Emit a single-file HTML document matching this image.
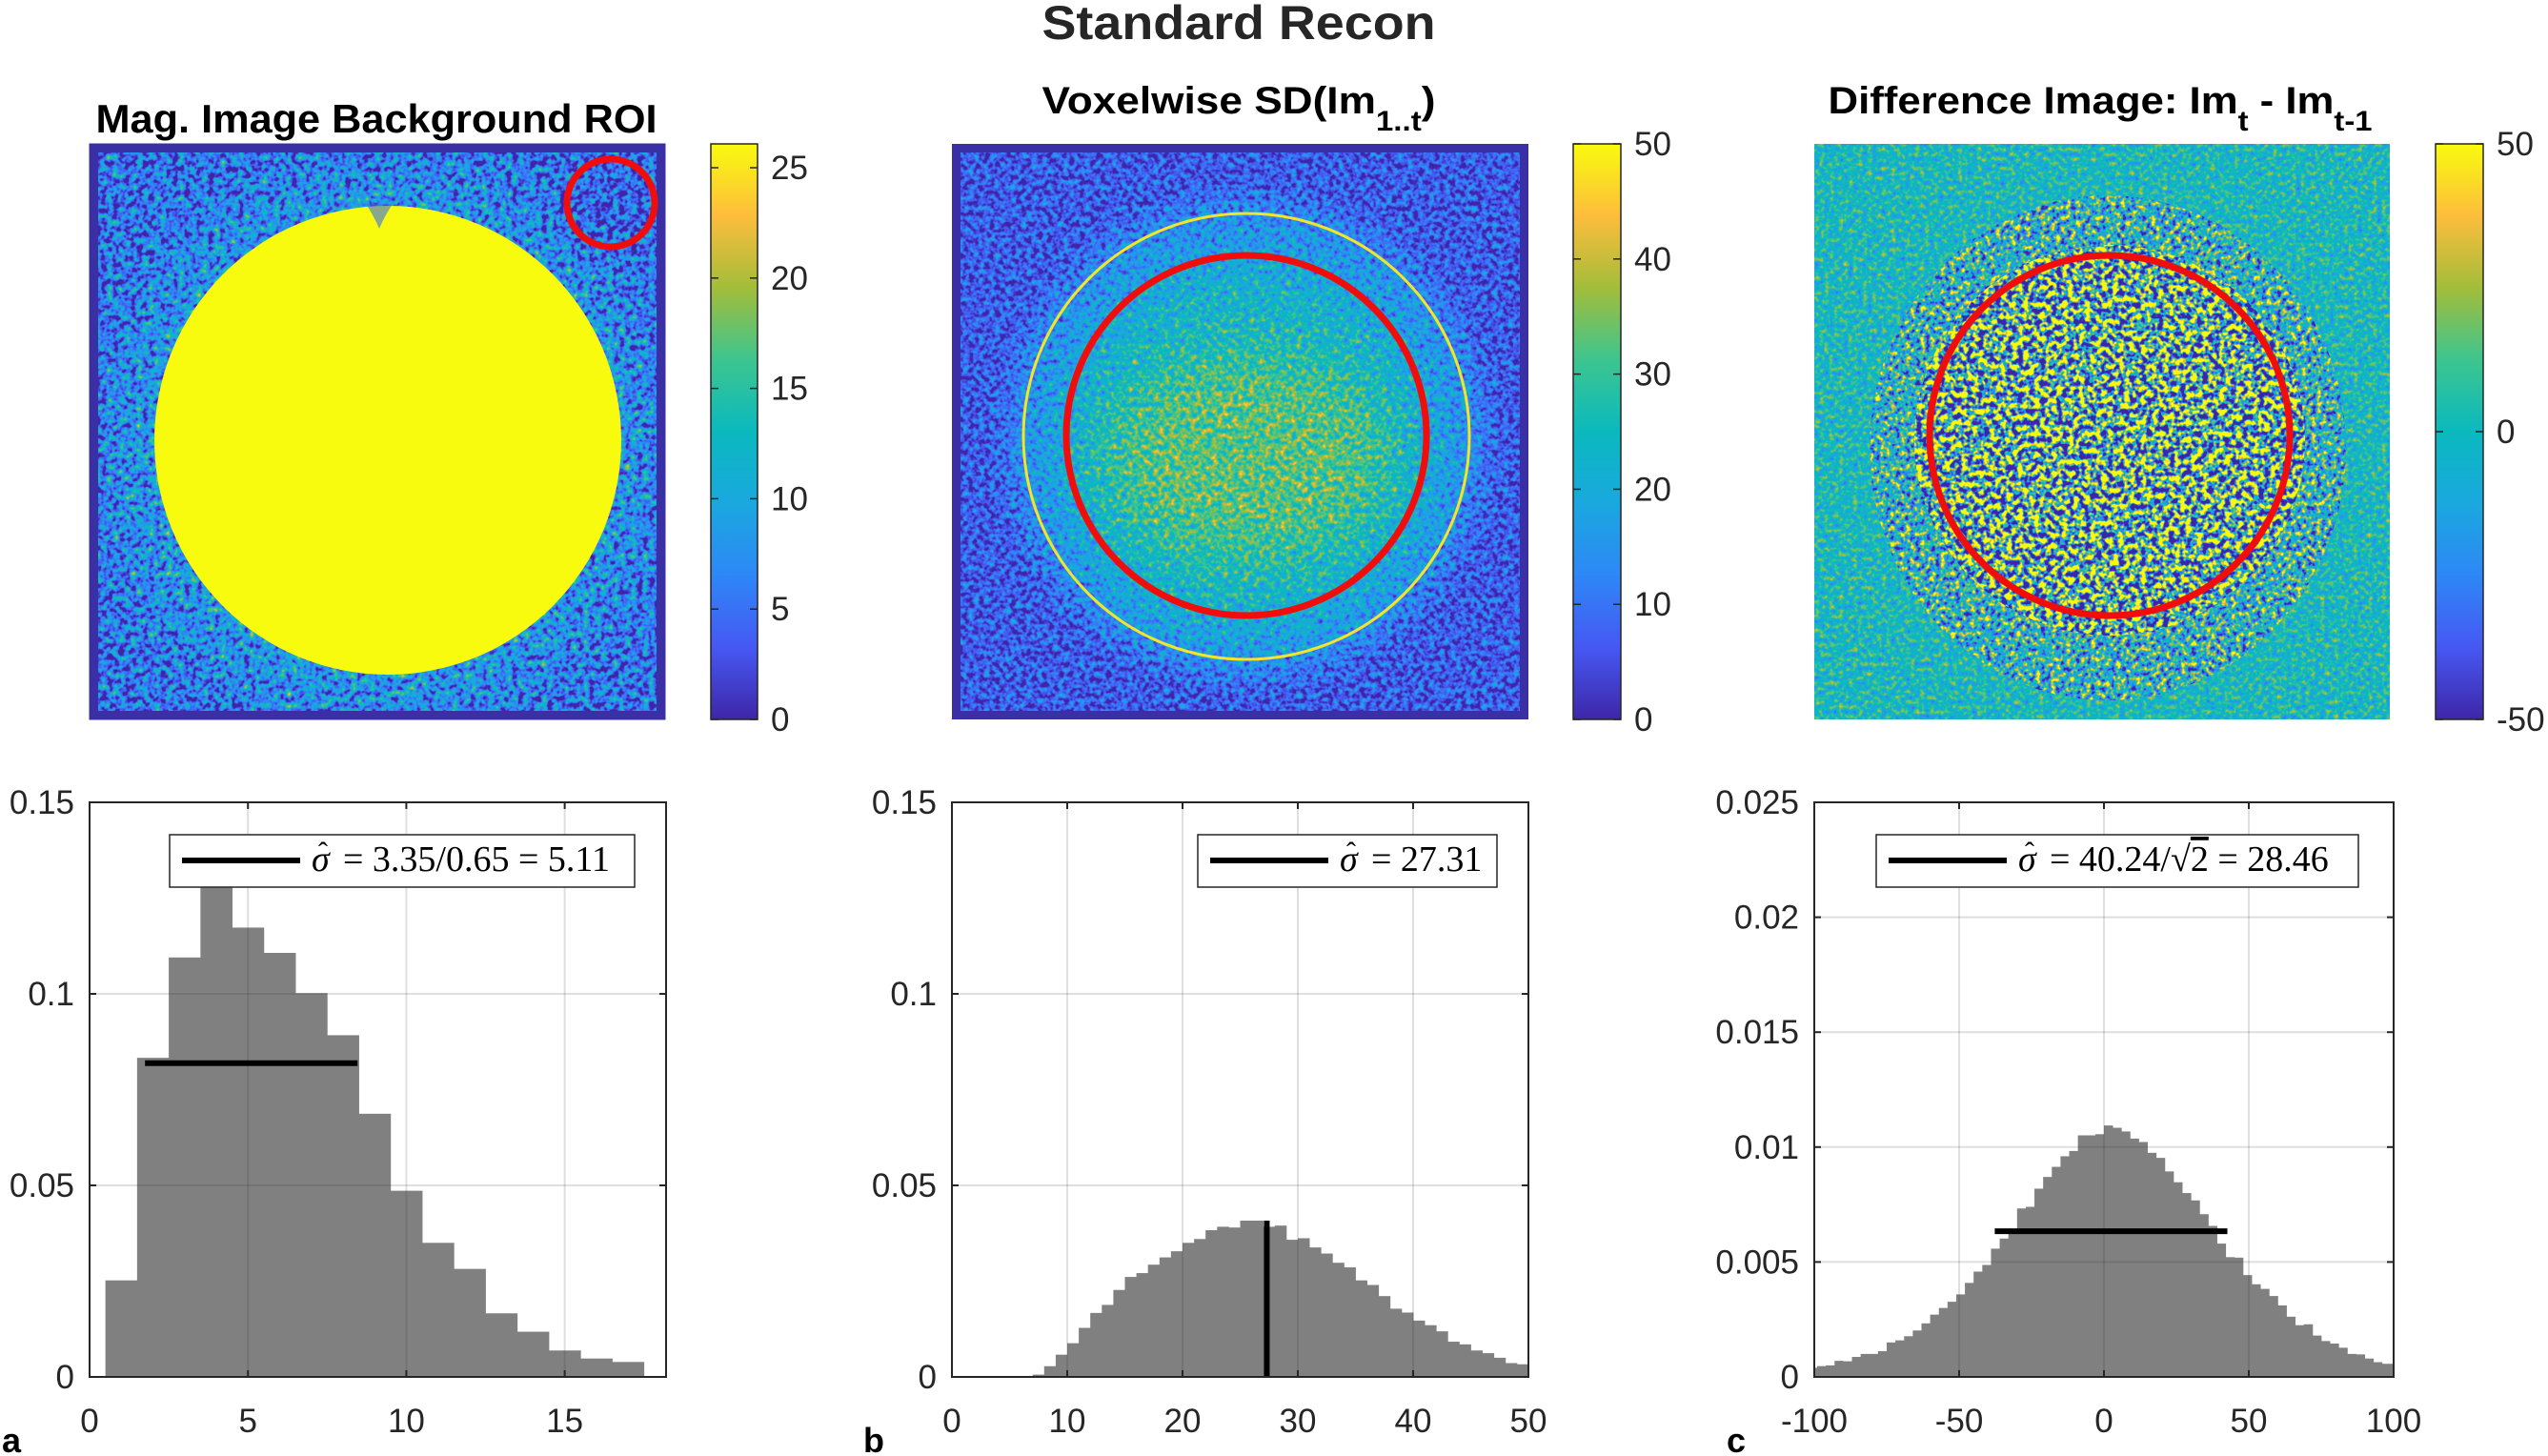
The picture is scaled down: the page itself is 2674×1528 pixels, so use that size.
<!DOCTYPE html>
<html><head><meta charset="utf-8"><style>
html,body{margin:0;padding:0;background:#fff;}
svg{display:block;}
</style></head><body>
<svg id="fig" width="2674" height="1528" viewBox="0 0 2674 1528" xmlns="http://www.w3.org/2000/svg">
<defs>
<linearGradient id="parula" x1="0" y1="1" x2="0" y2="0">
<stop offset="0" stop-color="#3e26a8"/><stop offset="0.125" stop-color="#4658f3"/><stop offset="0.25" stop-color="#2e87f6"/><stop offset="0.375" stop-color="#1aa8df"/><stop offset="0.5" stop-color="#0ab9be"/><stop offset="0.625" stop-color="#3dc58f"/><stop offset="0.75" stop-color="#a3bd3a"/><stop offset="0.875" stop-color="#fdbd3c"/><stop offset="1" stop-color="#f9fb0e"/>
</linearGradient>
<filter id="blur12" x="-20%" y="-20%" width="140%" height="140%"><feGaussianBlur stdDeviation="14"/></filter>
<filter id="blur30" x="-30%" y="-30%" width="160%" height="160%"><feGaussianBlur stdDeviation="30"/></filter>
<filter id="fa" filterUnits="userSpaceOnUse" x="94" y="151" width="604" height="604" color-interpolation-filters="sRGB">
<feTurbulence type="fractalNoise" baseFrequency="0.16" numOctaves="2" seed="4" result="n"/>
<feColorMatrix in="n" type="matrix" values="1 0 0 0 0 1 0 0 0 0 1 0 0 0 0 0 0 0 0 1" result="g"/>
<feComposite in="SourceGraphic" in2="g" operator="arithmetic" k1="0" k2="1" k3="1.4" k4="-0.7"/>
<feComponentTransfer><feFuncR type="table" tableValues="0.243 0.275 0.180 0.102 0.039 0.239 0.639 0.992 0.976"/><feFuncG type="table" tableValues="0.149 0.345 0.529 0.659 0.725 0.773 0.741 0.741 0.984"/><feFuncB type="table" tableValues="0.659 0.953 0.965 0.875 0.745 0.561 0.227 0.235 0.055"/></feComponentTransfer>
</filter>
<filter id="fb" filterUnits="userSpaceOnUse" x="999" y="151" width="605" height="604" color-interpolation-filters="sRGB">
<feTurbulence type="fractalNoise" baseFrequency="0.18" numOctaves="2" seed="7" result="n"/>
<feColorMatrix in="n" type="matrix" values="1 0 0 0 0 1 0 0 0 0 1 0 0 0 0 0 0 0 0 1" result="g"/>
<feComposite in="SourceGraphic" in2="g" operator="arithmetic" k1="0" k2="1" k3="0.9" k4="-0.45"/>
<feComponentTransfer><feFuncR type="table" tableValues="0.243 0.275 0.180 0.102 0.039 0.239 0.639 0.992 0.976"/><feFuncG type="table" tableValues="0.149 0.345 0.529 0.659 0.725 0.773 0.741 0.741 0.984"/><feFuncB type="table" tableValues="0.659 0.953 0.965 0.875 0.745 0.561 0.227 0.235 0.055"/></feComponentTransfer>
</filter>
<filter id="fc" filterUnits="userSpaceOnUse" x="1904" y="151" width="604" height="604" color-interpolation-filters="sRGB">
<feTurbulence type="fractalNoise" baseFrequency="0.2" numOctaves="2" seed="11" result="n"/>
<feColorMatrix in="n" type="matrix" values="1 0 0 0 0 1 0 0 0 0 1 0 0 0 0 0 0 0 0 1" result="g"/>
<feComposite in="SourceGraphic" in2="g" operator="arithmetic" k1="0" k2="1" k3="0.9" k4="-0.45"/>
<feComponentTransfer><feFuncR type="table" tableValues="0.243 0.275 0.180 0.102 0.039 0.239 0.639 0.992 0.976"/><feFuncG type="table" tableValues="0.149 0.345 0.529 0.659 0.725 0.773 0.741 0.741 0.984"/><feFuncB type="table" tableValues="0.659 0.953 0.965 0.875 0.745 0.561 0.227 0.235 0.055"/></feComponentTransfer>
</filter>
<filter id="fcm" filterUnits="userSpaceOnUse" x="1904" y="151" width="604" height="604" color-interpolation-filters="sRGB">
<feTurbulence type="fractalNoise" baseFrequency="0.19" numOctaves="2" seed="9" result="n"/>
<feColorMatrix in="n" type="matrix" values="1 0 0 0 0 1 0 0 0 0 1 0 0 0 0 0 0 0 0 1" result="g"/>
<feComposite in="SourceGraphic" in2="g" operator="arithmetic" k1="0" k2="1" k3="2.2" k4="-1.1"/>
<feComponentTransfer><feFuncR type="table" tableValues="0.243 0.275 0.180 0.102 0.039 0.239 0.639 0.992 0.976"/><feFuncG type="table" tableValues="0.149 0.345 0.529 0.659 0.725 0.773 0.741 0.741 0.984"/><feFuncB type="table" tableValues="0.659 0.953 0.965 0.875 0.745 0.561 0.227 0.235 0.055"/></feComponentTransfer>
</filter>
<filter id="fc2" filterUnits="userSpaceOnUse" x="1904" y="151" width="604" height="604" color-interpolation-filters="sRGB">
<feTurbulence type="fractalNoise" baseFrequency="0.17" numOctaves="2" seed="5" result="n"/>
<feColorMatrix in="n" type="matrix" values="1 0 0 0 0 1 0 0 0 0 1 0 0 0 0 0 0 0 0 1" result="g"/>
<feComposite in="SourceGraphic" in2="g" operator="arithmetic" k1="0" k2="1" k3="4.5" k4="-2.25"/>
<feComponentTransfer><feFuncR type="table" tableValues="0.243 0.275 0.180 0.102 0.039 0.239 0.639 0.992 0.976"/><feFuncG type="table" tableValues="0.149 0.345 0.529 0.659 0.725 0.773 0.741 0.741 0.984"/><feFuncB type="table" tableValues="0.659 0.953 0.965 0.875 0.745 0.561 0.227 0.235 0.055"/></feComponentTransfer>
</filter>
<clipPath id="clipA"><rect x="94" y="151" width="604" height="604"/></clipPath>
<clipPath id="clipB"><rect x="999" y="151" width="605" height="604"/></clipPath>
<clipPath id="clipC"><rect x="1904" y="151" width="604" height="604"/></clipPath>
<clipPath id="clipCout"><ellipse cx="2212" cy="470" rx="250" ry="265"/></clipPath>
<clipPath id="clipCin"><circle cx="2214" cy="462" r="205"/></clipPath>
</defs>

<text x="1300" y="41" text-anchor="middle" font-family="Liberation Sans, sans-serif" font-weight="bold" font-size="50" fill="#262626" textLength="413" lengthAdjust="spacingAndGlyphs">Standard Recon</text>

<!-- Panel a image -->
<g clip-path="url(#clipA)">
<g filter="url(#fa)">
<rect x="94" y="151" width="604" height="604" fill="rgb(51,51,51)"/>
<ellipse cx="400" cy="470" rx="285" ry="290" fill="rgb(82,82,82)" filter="url(#blur30)"/>
<circle cx="641" cy="213" r="50" fill="rgb(40,40,40)" filter="url(#blur12)"/>
</g>
<rect x="98" y="155" width="596" height="596" fill="none" stroke="#3b2fa6" stroke-width="10"/>
<ellipse cx="407" cy="462" rx="245" ry="246" fill="#f9fb0e"/>
<path d="M384 214 Q392 226 398 240 Q404 226 412 214 Z" fill="#3a72e6" opacity="0.6"/>
</g>
<rect x="94" y="151" width="604" height="604" fill="none" stroke="#3b2fa6" stroke-width="1"/>
<circle cx="641" cy="213" r="46" fill="none" stroke="#f20d0d" stroke-width="7"/>
<text x="395" y="139" text-anchor="middle" font-family="Liberation Sans, sans-serif" font-weight="bold" font-size="42" fill="#000" textLength="589" lengthAdjust="spacingAndGlyphs">Mag. Image Background ROI</text>

<!-- Panel b image -->
<g clip-path="url(#clipB)">
<g filter="url(#fb)">
<rect x="999" y="151" width="605" height="604" fill="rgb(34,34,34)"/>
<circle cx="1308" cy="458" r="250" fill="rgb(70,70,70)" filter="url(#blur12)"/>
<circle cx="1308" cy="470" r="200" fill="rgb(120,120,120)" filter="url(#blur30)"/>
<ellipse cx="1310" cy="480" rx="150" ry="110" fill="rgb(165,165,165)" filter="url(#blur30)"/>
</g>
<rect x="1003" y="155" width="597" height="596" fill="none" stroke="#3b2fa6" stroke-width="10"/>
<circle cx="1308" cy="458" r="234" fill="none" stroke="#f2e52a" stroke-width="3"/>
</g>
<circle cx="1308" cy="457" r="189" fill="none" stroke="#f20d0d" stroke-width="7"/>
<text x="1300" y="119" text-anchor="middle" font-family="Liberation Sans, sans-serif" font-weight="bold" font-size="40" fill="#000" textLength="413" lengthAdjust="spacingAndGlyphs">Voxelwise SD(Im<tspan font-size="30" dy="18">1..t</tspan><tspan dy="-18">)</tspan></text>

<!-- Panel c image -->
<g clip-path="url(#clipC)">
<g filter="url(#fc)">
<rect x="1904" y="151" width="604" height="604" fill="rgb(128,128,128)"/>
</g>
<g clip-path="url(#clipCout)">
<g filter="url(#fcm)"><rect x="1904" y="151" width="604" height="604" fill="rgb(122,122,122)"/></g>
</g>
<g clip-path="url(#clipCin)">
<g filter="url(#fc2)"><rect x="1904" y="151" width="604" height="604" fill="rgb(128,128,128)"/></g>
</g>
</g>
<circle cx="2214" cy="457" r="189" fill="none" stroke="#f20d0d" stroke-width="7"/>
<text x="2204" y="119" text-anchor="middle" font-family="Liberation Sans, sans-serif" font-weight="bold" font-size="40" fill="#000" textLength="571" lengthAdjust="spacingAndGlyphs">Difference Image: Im<tspan font-size="30" dy="18">t</tspan><tspan dy="-18"> - Im</tspan><tspan font-size="30" dy="18">t-1</tspan></text>

<g id="colorbars"></g>
<g id="charts"></g>

<text x="2" y="1524" font-family="Liberation Sans, sans-serif" font-weight="bold" font-size="36" fill="#000">a</text>
<text x="906" y="1524" font-family="Liberation Sans, sans-serif" font-weight="bold" font-size="36" fill="#000">b</text>
<text x="1812" y="1524" font-family="Liberation Sans, sans-serif" font-weight="bold" font-size="36" fill="#000">c</text>
</svg>
<script>
// ---- data ----
const aBinStart = 0.5;
const aBinWidth = 1;
const aValues = [0.0252,0.0833,0.1095,0.129,0.1173,0.1107,0.1002,0.0892,0.0687,0.0486,0.035,0.0282,0.0166,0.0118,0.0069,0.0048,0.0039];
const aStatLine = [1.75, 8.46, 0.0819];
const aXTicks = [0,5,10,15];
const aYTicks = [0,0.05,0.1,0.15];
const aYTickLabels = ["0","0.05","0.1","0.15"];

const bBinStart = 0;
const bBinWidth = 1;
const bValues = [0,0,0,0,0,0,0.0001,0.0006,0.0028,0.0058,0.0088,0.0128,0.0167,0.0188,0.0227,0.0261,0.0271,0.0293,0.0312,0.0328,0.035,0.036,0.0383,0.0392,0.039,0.0408,0.0408,0.0392,0.0395,0.0358,0.0362,0.0338,0.0322,0.0298,0.0286,0.0252,0.024,0.0211,0.0178,0.0168,0.0147,0.0135,0.0119,0.0092,0.0085,0.0069,0.0062,0.005,0.0036,0.0033];
const bStatLine = [27.31, 0, 0.0408];
const bXTicks = [0,10,20,30,40,50];
const bYTicks = [0,0.05,0.1,0.15];
const bYTickLabels = ["0","0.05","0.1","0.15"];

const cBinStart = -102;
const cBinWidth = 3;
const cValues = [0.0004,0.00047,0.0005,0.0007,0.00068,0.00087,0.001,0.001,0.00112,0.0015,0.00159,0.00177,0.00202,0.00233,0.00271,0.003,0.00327,0.00359,0.00409,0.00458,0.00487,0.00558,0.00602,0.00644,0.00733,0.0074,0.00819,0.0087,0.00914,0.0096,0.00983,0.01051,0.01051,0.01056,
0.01094,0.01084,0.01068,0.01037,0.01022,0.00975,0.00953,0.00894,0.00847,0.008,0.00768,0.00708,0.00657,0.0058,0.00521,0.00519,0.00443,0.00403,0.00383,0.00352,0.00311,0.00262,0.00225,0.00229,0.0018,0.00156,0.00145,0.00127,0.001,0.00098,0.0008,0.00064,0.00057,0.00057];
const cStatLine = [-37.7, 42.6, 0.00634];
const cXTicks = [-100,-50,0,50,100];
const cYTicks = [0,0.005,0.01,0.015,0.02,0.025];
const cYTickLabels = ["0","0.005","0.01","0.015","0.02","0.025"];

const cbATicks = [0,5,10,15,20,25];
const cbBTicks = [0,10,20,30,40,50];
const cbCTicks = [-50,0,50];

const NS = "http://www.w3.org/2000/svg";
function mk(tag, attrs, parent){
  const e = document.createElementNS(NS, tag);
  for (const k in attrs) e.setAttribute(k, attrs[k]);
  parent.appendChild(e);
  return e;
}
const TICKFONT = "Liberation Sans, sans-serif";

// ---- colorbars ----
function colorbar(g, x, y, w, h, vmin, vmax, ticks, name){
  const grp = mk('g', {}, g);
  
  
  mk('rect', {x:x, y:y, width:w, height:h, fill:'url(#parula)', stroke:'#262626', 'stroke-width':1.5}, grp);
  const sy = v => y + h - (v - vmin) / (vmax - vmin) * h;
  ticks.forEach(t => {
    const ty = sy(t);
    mk('line', {x1:x+w-8, x2:x+w, y1:ty, y2:ty, stroke:'#262626', 'stroke-width':1.5}, grp);
    mk('line', {x1:x, x2:x+8, y1:ty, y2:ty, stroke:'#262626', 'stroke-width':1.5}, grp);
    const tx = mk('text', {x:x+w+14, y:ty+12, 'font-family':TICKFONT, 'font-size':35, fill:'#262626'}, grp);
    
    
    tx.textContent = String(t);
  });
}
const cbg = document.getElementById('colorbars');
colorbar(cbg, 746, 151, 49, 604, 0, 26.08, cbATicks, 'colorbar-magnitude');
colorbar(cbg, 1651, 151, 50, 604, 0, 50, cbBTicks, 'colorbar-sd');
colorbar(cbg, 2556, 151, 50, 604, -50, 50, cbCTicks, 'colorbar-difference');

// ---- histograms ----
function histogram(cfg){
  const root = document.getElementById('charts');
  const g = mk('g', {}, root);
  
  
  const L = cfg.left, R = cfg.right, T = 842, B = 1445;
  const sx = v => L + (v - cfg.xmin) / (cfg.xmax - cfg.xmin) * (R - L);
  const sy = v => B - (v - cfg.ymin) / (cfg.ymax - cfg.ymin) * (B - T);
  mk('rect', {x:L, y:T, width:R-L, height:B-T, fill:'#fff'}, g);
  const bars = mk('g', {}, g);
  
  
  cfg.values.forEach((v, i) => {
    let x0 = cfg.binStart + i * cfg.binWidth, x1 = x0 + cfg.binWidth;
    x0 = Math.max(x0, cfg.xmin); x1 = Math.min(x1, cfg.xmax);
    if (x1 <= x0 || v <= 0) return;
    const r = mk('rect', {x:sx(x0), y:sy(v), width:sx(x1)-sx(x0)+0.4, height:B-sy(v), fill:'#808080'}, bars);
    
    
  });
  cfg.xticks.forEach(t => {
    const l = mk('line', {x1:sx(t), x2:sx(t), y1:T, y2:B, stroke:'rgba(38,38,38,0.15)', 'stroke-width':2}, g);
    
    
  });
  cfg.yticks.forEach(t => {
    const l = mk('line', {x1:L, x2:R, y1:sy(t), y2:sy(t), stroke:'rgba(38,38,38,0.15)', 'stroke-width':2}, g);
    
    
  });
  const s = cfg.stat;
  let sl;
  if (cfg.statVertical) sl = mk('line', {x1:sx(s[0]), x2:sx(s[0]), y1:sy(s[1]), y2:sy(s[2]), stroke:'#000', 'stroke-width':6}, g);
  else sl = mk('line', {x1:sx(s[0]), x2:sx(s[1]), y1:sy(s[2]), y2:sy(s[2]), stroke:'#000', 'stroke-width':6}, g);
  
  
  const box = mk('rect', {x:L, y:T, width:R-L, height:B-T, fill:'none', stroke:'#262626', 'stroke-width':2}, g);
  
  
  cfg.xticks.forEach(t => {
    mk('line', {x1:sx(t), x2:sx(t), y1:B, y2:B-7, stroke:'#262626', 'stroke-width':2}, g);
    mk('line', {x1:sx(t), x2:sx(t), y1:T, y2:T+7, stroke:'#262626', 'stroke-width':2}, g);
    const tx = mk('text', {x:sx(t), y:1503, 'text-anchor':'middle', 'font-family':TICKFONT, 'font-size':35, fill:'#262626'}, g);
    
    
    tx.textContent = String(t);
  });
  cfg.yticks.forEach((t, i) => {
    mk('line', {x1:L, x2:L+7, y1:sy(t), y2:sy(t), stroke:'#262626', 'stroke-width':2}, g);
    mk('line', {x1:R, x2:R-7, y1:sy(t), y2:sy(t), stroke:'#262626', 'stroke-width':2}, g);
    const tx = mk('text', {x:L-16, y:sy(t)+12, 'text-anchor':'end', 'font-family':TICKFONT, 'font-size':35, fill:'#262626'}, g);
    
    
    tx.textContent = cfg.ylabels[i];
  });
  const lg = mk('g', {}, g);
  
  
  const lx = cfg.legend[0], lw = cfg.legend[1];
  mk('rect', {x:lx, y:876, width:lw, height:55, fill:'#fff', stroke:'#262626', 'stroke-width':1.5}, lg);
  mk('line', {x1:lx+13, x2:lx+137, y1:903, y2:903, stroke:'#000', 'stroke-width':6}, lg);
  // sigma with hat
  const sg = mk('text', {x:lx+149, y:914, 'font-family':'Liberation Serif, serif', 'font-style':'italic', 'font-size':38, fill:'#000'}, lg);
  
  
  sg.textContent = 'σ';
  const hat = mk('text', {x:lx+161, y:904, 'text-anchor':'middle', 'font-family':'Liberation Serif, serif', 'font-size':30, fill:'#000'}, lg);
  
  
  hat.textContent = 'ˆ';
  const t = mk('text', {x:lx+182, y:914, 'font-family':'Liberation Serif, serif', 'font-size':38, fill:'#000'}, lg);
  
  
  t.innerHTML = cfg.legendHTML;
}

histogram({name:'histogram-background', left:94, right:699, xmin:0, xmax:18.2, ymin:0, ymax:0.15,
  values:aValues, binStart:aBinStart, binWidth:aBinWidth, xticks:aXTicks, yticks:aYTicks, ylabels:aYTickLabels,
  stat:aStatLine, statVertical:false, legend:[178,488],
  legendHTML:' = 3.35/0.65 = 5.11'});
histogram({name:'histogram-voxelwise-sd', left:999, right:1604, xmin:0, xmax:50, ymin:0, ymax:0.15,
  values:bValues, binStart:bBinStart, binWidth:bBinWidth, xticks:bXTicks, yticks:bYTicks, ylabels:bYTickLabels,
  stat:bStatLine, statVertical:true, legend:[1257,314],
  legendHTML:'  =  27.31'});
histogram({name:'histogram-difference', left:1904, right:2512, xmin:-100, xmax:100, ymin:0, ymax:0.025,
  values:cValues, binStart:cBinStart, binWidth:cBinWidth, xticks:cXTicks, yticks:cYTicks, ylabels:cYTickLabels,
  stat:cStatLine, statVertical:false, legend:[1969,506],
  legendHTML:'  = 40.24/√<tspan text-decoration="overline">2</tspan> = 28.46'});
</script>
</body></html>
